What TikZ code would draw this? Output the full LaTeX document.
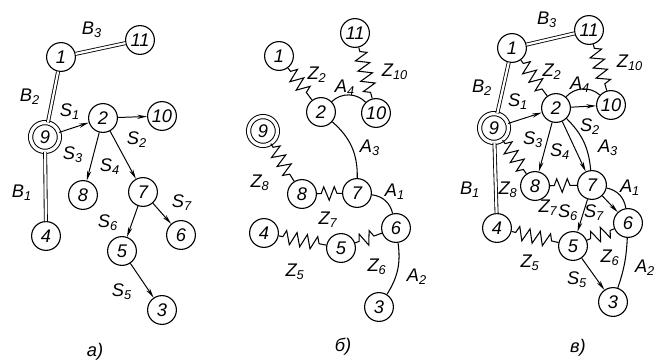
\documentclass[tikz,border=0pt]{standalone}
\usepackage{fontspec}
\setmainfont{Liberation Sans}
\usetikzlibrary{arrows.meta, decorations.pathmorphing}

\begin{document}
\begin{tikzpicture}[
  x=0.025cm, y=-0.025cm,
  vert/.style={circle, draw, line width=0.8pt, minimum size=0.72cm, inner sep=0pt,
               font=\fontsize{13}{15}\selectfont\itshape},
  root/.style={vert, double, line width=0.7pt, double distance=2.3pt},
  lbl/.style={inner sep=0pt, font=\fontsize{13}{15}\selectfont\itshape},
  bar/.style={double, line width=0.6pt, double distance=1.6pt},
  sarr/.style={-{Stealth[length=7pt, width=3pt]}, line width=0.7pt},
  spring/.style={line width=0.75pt, decorate,
                 decoration={zigzag, segment length=7.5pt, amplitude=4.8pt,
                             pre length=3pt, post length=3pt}},
  hinge/.style={line width=0.75pt}
]
  \useasboundingbox (0,0) rectangle (657,363);

  % a) tree of branches
  \node[vert] (a1) at (61,57) {1};
  \node[vert] (a11) at (140,40) {11};
  \node[root] (a9) at (45,137) {9};
  \node[vert] (a2) at (103,118) {2};
  \node[vert] (a10) at (162,116) {10};
  \node[vert] (a8) at (83,195) {8};
  \node[vert] (a7) at (143,192) {7};
  \node[vert] (a6) at (181,235) {6};
  \node[vert] (a4) at (46,236) {4};
  \node[vert] (a5) at (122,251) {5};
  \node[vert] (a3) at (162,310) {3};
  \draw[bar] (a1) -- (a11);
  \draw[bar] (a1) -- (a9);
  \draw[bar] (a9) -- (a4);
  \draw[sarr] (a9) -- (a2);
  \draw[sarr] (a2) -- (a10);
  \draw[sarr] (a2) -- (a8);
  \draw[sarr] (a2) -- (a7);
  \draw[sarr] (a7) -- (a6);
  \draw[sarr] (a7) -- (a5);
  \draw[sarr] (a5) -- (a3);
  \node[lbl] (la-b3) at (92,30) {B\textsubscript{3}};
  \node[lbl] (la-b2) at (30,97) {B\textsubscript{2}};
  \node[lbl] (la-b1) at (22,193) {B\textsubscript{1}};
  \node[lbl] (la-s1) at (70,112) {S\textsubscript{1}};
  \node[lbl] (la-s2) at (137,140) {S\textsubscript{2}};
  \node[lbl] (la-s3) at (73,155) {S\textsubscript{3}};
  \node[lbl] (la-s4) at (110,167) {S\textsubscript{4}};
  \node[lbl] (la-s7) at (182,203) {S\textsubscript{7}};
  \node[lbl] (la-s6) at (108,223) {S\textsubscript{6}};
  \node[lbl] (la-s5) at (122,292) {S\textsubscript{5}};
  \node[lbl] (cap-a) at (95,352) {а)};

  % b) springs and hinges
  \node[vert] (b1) at (279,56) {1};
  \node[vert] (b11) at (355,33) {11};
  \node[vert] (b2) at (321,112) {2};
  \node[vert] (b10) at (376,113) {10};
  \node[root] (b9) at (263,131) {9};
  \node[vert] (b8) at (302,194) {8};
  \node[vert] (b7) at (357,193) {7};
  \node[vert] (b6) at (396,228) {6};
  \node[vert] (b4) at (264,233) {4};
  \node[vert] (b5) at (341,248) {5};
  \node[vert] (b3) at (379,307) {3};
  \draw[spring] (b1) -- (b2);
  \draw[spring] (b11) -- (b10);
  \draw[spring] (b9) -- (b8);
  \draw[spring] (b8) -- (b7);
  \draw[spring] (b4) -- (b5);
  \draw[spring] (b5) -- (b6);
  \draw[hinge] (b2) to[bend left=45] (b10);
  \draw[hinge] (b2) to[bend left=25] (b7);
  \draw[hinge] (b7) to[bend left=35] (b6);
  \draw[hinge] (b6) to[bend left=20] (b3);
  \node[lbl] (lb-z2) at (317,75) {Z\textsubscript{2}};
  \node[lbl] (lb-z10) at (395,72) {Z\textsubscript{10}};
  \node[lbl] (lb-a4) at (345,88) {A\textsubscript{4}};
  \node[lbl] (lb-a3) at (370,148) {A\textsubscript{3}};
  \node[lbl] (lb-z8) at (260,183) {Z\textsubscript{8}};
  \node[lbl] (lb-a1) at (395,192) {A\textsubscript{1}};
  \node[lbl] (lb-z7) at (328,220) {Z\textsubscript{7}};
  \node[lbl] (lb-z5) at (295,272) {Z\textsubscript{5}};
  \node[lbl] (lb-z6) at (377,267) {Z\textsubscript{6}};
  \node[lbl] (lb-a2) at (417,277) {A\textsubscript{2}};
  \node[lbl] (cap-b) at (343,347) {б)};

  % c) both graphs together
  \node[vert] (c1) at (512,48) {1};
  \node[vert] (c11) at (589,30) {11};
  \node[vert] (c2) at (556,108) {2};
  \node[vert] (c10) at (611,105) {10};
  \node[root] (c9) at (494,128) {9};
  \node[vert] (c8) at (535,186) {8};
  \node[vert] (c7) at (592,185) {7};
  \node[vert] (c6) at (628,223) {6};
  \node[vert] (c4) at (497,228) {4};
  \node[vert] (c5) at (573,246) {5};
  \node[vert] (c3) at (613,302) {3};
  \draw[bar] (c1) -- (c11);
  \draw[bar] (c1) -- (c9);
  \draw[bar] (c9) -- (c4);
  \draw[spring] (c1) -- (c2);
  \draw[spring] (c11) -- (c10);
  \draw[spring] (c9) -- (c8);
  \draw[spring] (c8) -- (c7);
  \draw[spring] (c4) -- (c5);
  \draw[spring] (c5) -- (c6);
  \draw[sarr] (c9) -- (c2);
  \draw[sarr] (c2) -- (c10);
  \draw[sarr] (c2) -- (c8);
  \draw[sarr] (c2) -- (c7);
  \draw[sarr] (c7) -- (c6);
  \draw[sarr] (c7) -- (c5);
  \draw[sarr] (c5) -- (c3);
  \draw[hinge] (c2) to[bend left=45] (c10);
  \draw[hinge] (c2) to[bend left=20] (c7);
  \draw[hinge] (c7) to[bend left=35] (c6);
  \draw[hinge] (c6) to[bend left=8] (c3);
  \node[lbl] (lc-b3) at (547,20) {B\textsubscript{3}};
  \node[lbl] (lc-z10) at (630,63) {Z\textsubscript{10}};
  \node[lbl] (lc-z2) at (552,72) {Z\textsubscript{2}};
  \node[lbl] (lc-a4) at (580,85) {A\textsubscript{4}};
  \node[lbl] (lc-b2) at (482,88) {B\textsubscript{2}};
  \node[lbl] (lc-s1) at (518,102) {S\textsubscript{1}};
  \node[lbl] (lc-s2) at (590,127) {S\textsubscript{2}};
  \node[lbl] (lc-a3) at (608,148) {A\textsubscript{3}};
  \node[lbl] (lc-s3) at (533,140) {S\textsubscript{3}};
  \node[lbl] (lc-s4) at (560,152) {S\textsubscript{4}};
  \node[lbl] (lc-b1) at (470,190) {B\textsubscript{1}};
  \node[lbl] (lc-z8) at (508,190) {Z\textsubscript{8}};
  \node[lbl] (lc-a1) at (630,188) {A\textsubscript{1}};
  \node[lbl] (lc-z7) at (548,208) {Z\textsubscript{7}};
  \node[lbl] (lc-s6) at (568,213) {S\textsubscript{6}};
  \node[lbl] (lc-s7) at (594,213) {S\textsubscript{7}};
  \node[lbl] (lc-z6) at (610,258) {Z\textsubscript{6}};
  \node[lbl] (lc-z5) at (530,263) {Z\textsubscript{5}};
  \node[lbl] (lc-s5) at (577,280) {S\textsubscript{5}};
  \node[lbl] (lc-a2) at (645,268) {A\textsubscript{2}};
  \node[lbl] (cap-c) at (578,348) {в)};
\end{tikzpicture}
\end{document}
